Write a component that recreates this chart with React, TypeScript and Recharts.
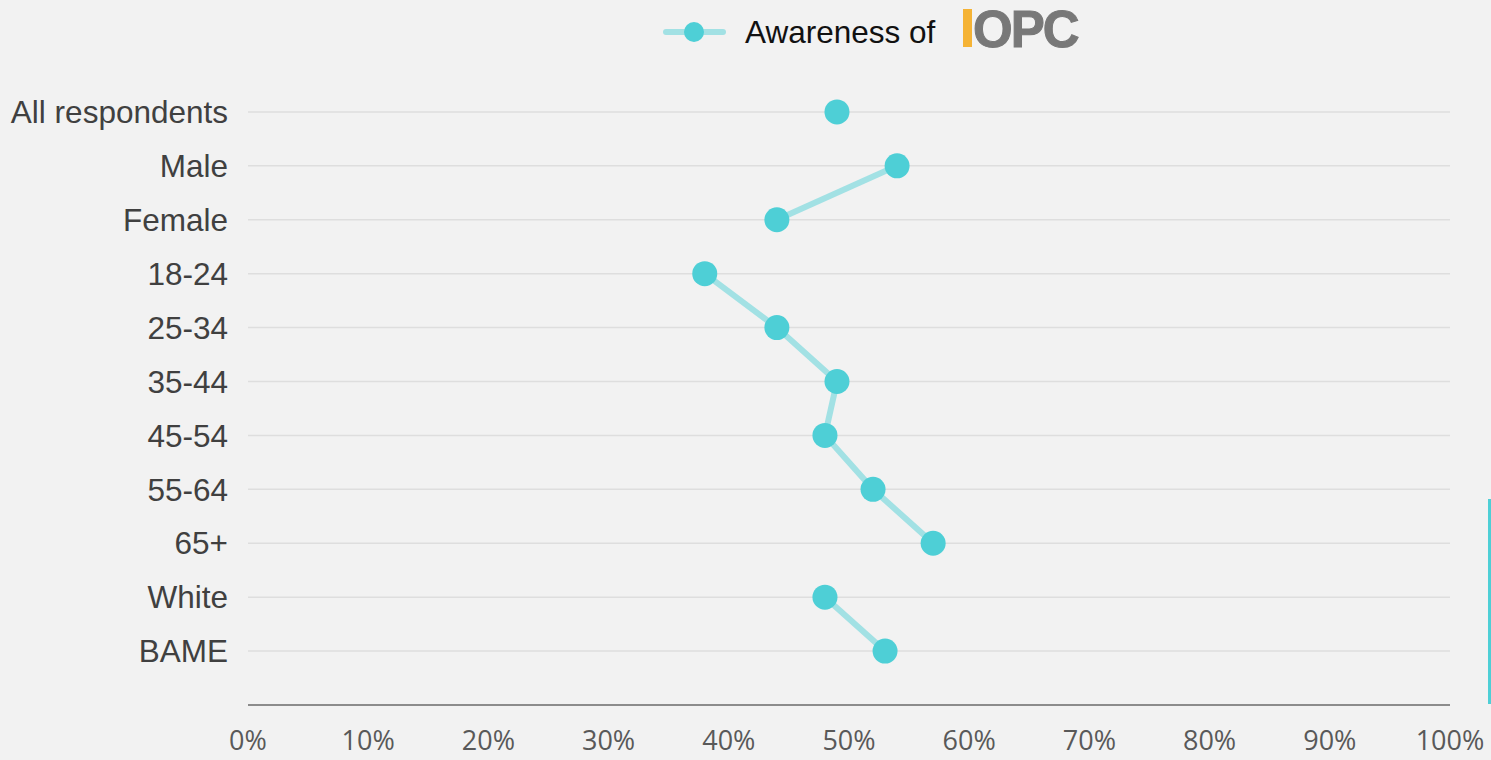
import React from "react";
import {
  LineChart,
  Line,
  XAxis,
  YAxis,
  CartesianGrid,
} from "recharts";

const categories = [
  "All respondents",
  "Male",
  "Female",
  "18-24",
  "25-34",
  "35-44",
  "45-54",
  "55-64",
  "65+",
  "White",
  "BAME",
];
// awareness of IOPC, %
const awareness = [49, 54, 44, 38, 44, 49, 48, 52, 57, 48, 53];
// which connected group each row belongs to
const groups = [0, 1, 1, 2, 2, 2, 2, 2, 2, 3, 3];
const groupKeys = ["g0", "g1", "g2", "g3"];
const xTicks = [0, 10, 20, 30, 40, 50, 60, 70, 80, 90, 100];
const yTicks = categories.map((_, i) => i + 1);
const yMax = 12;

const data = categories.map((name, i) => {
  const row: any = { pos: i + 1, name };
  groupKeys.forEach((k, g) => {
    row[k] = groups[i] === g ? awareness[i] : null;
  });
  return row;
});

const DOT = "#4ecfd6";
const LINE = "#a2e1e4";

// grid only on category rows, not on the domain edges
const gridRows = ({ yAxis, offset }: any) => {
  if (yAxis && typeof yAxis.scale === "function") {
    return yTicks.map((t) => yAxis.scale(t));
  }
  return yTicks.map((t) => offset.top + (offset.height * t) / yMax);
};

function LegendBox() {
  return (
    <div
      style={{
        position: "absolute",
        left: 0,
        top: 0,
        width: 1491,
        height: 64,
        pointerEvents: "none",
      }}
    >
      <svg width={1491} height={64} style={{ position: "absolute", left: 0, top: 0 }}>
        <line x1={666} y1={32} x2={723} y2={32} stroke={LINE} strokeWidth={6} strokeLinecap="round" />
        <circle cx={694} cy={32} r={10} fill={DOT} />
        <text
          x={745}
          y={43}
          fontFamily="'Liberation Sans', Arial, sans-serif"
          fontSize={31.5}
          fill="#111"
        >
          Awareness of
        </text>
        <rect x={963} y={9} width={9} height={38} fill="#f5b335" />
        <text
          x={973}
          y={47}
          fontFamily="'Liberation Sans', Arial, sans-serif"
          fontWeight="bold"
          fontSize={51}
          letterSpacing={-2}
          fill="#787878"
          stroke="#787878"
          strokeWidth={1}
        >
          OPC
        </text>
      </svg>
    </div>
  );
}

export default function App() {
  return (
    <div
      style={{
        position: "absolute",
        left: 0,
        top: 0,
        width: 1491,
        height: 760,
        background: "#f2f2f2",
        overflow: "hidden",
      }}
    >
      <LineChart
        width={1491}
        height={760}
        data={data}
        layout="vertical"
        margin={{ top: 58, right: 41, left: 0, bottom: 0 }}
      >
        <CartesianGrid
          vertical={false}
          stroke="#dedede"
          strokeWidth={1.5}
          horizontalCoordinatesGenerator={gridRows}
        />
        <XAxis
          type="number"
          domain={[0, 100]}
          ticks={xTicks}
          tickFormatter={(v) => `${v}%`}
          height={55}
          axisLine={{ stroke: "#8c8c8c", strokeWidth: 2 }}
          tickLine={false}
          tickSize={0}
          tickMargin={26}
          interval={0}
          tick={{ fill: "#595959", fontSize: 27, fontFamily: "'Open Sans', sans-serif" }}
        />
        <YAxis
          type="number"
          dataKey="pos"
          domain={[0, yMax]}
          ticks={yTicks}
          tickFormatter={(v) => categories[v - 1] ?? ""}
          width={248}
          axisLine={false}
          tickLine={false}
          tickSize={0}
          tickMargin={20}
          interval={0}
          tick={{ fill: "#404040", fontSize: 31.5, fontFamily: "'Liberation Sans', Arial, sans-serif" }}
        />
        {groupKeys.map((k) => (
          <Line
            key={k}
            dataKey={k}
            type="linear"
            stroke={LINE}
            strokeWidth={6}
            connectNulls={false}
            dot={{ r: 12.5, fill: DOT, stroke: DOT, strokeWidth: 0 }}
            activeDot={false}
            isAnimationActive={false}
            legendType="none"
          />
        ))}
      </LineChart>
      <LegendBox />
      <div
        style={{
          position: "absolute",
          left: 1488,
          top: 499,
          width: 3,
          height: 205,
          background: DOT,
        }}
      />
    </div>
  );
}
